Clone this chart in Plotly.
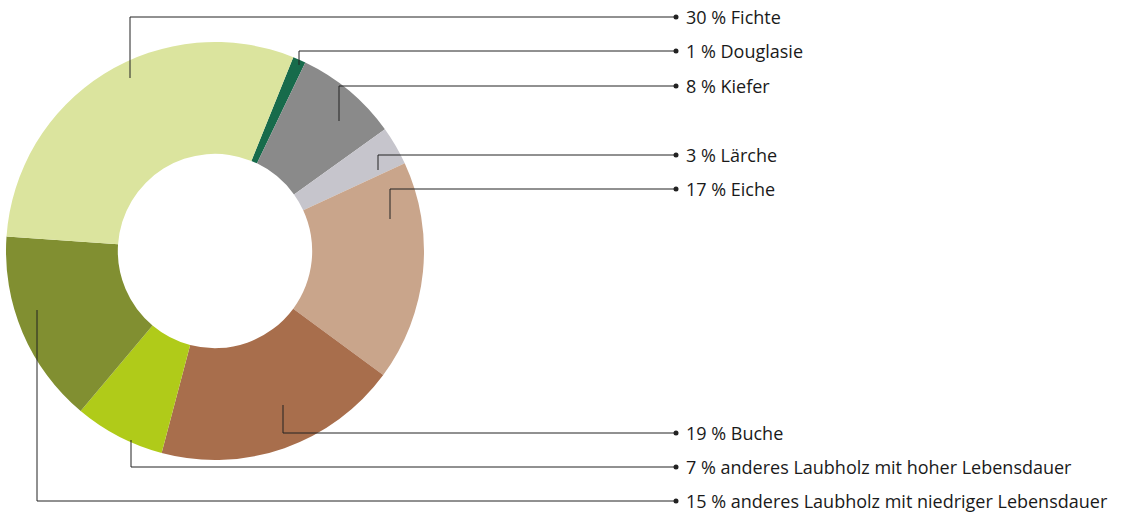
import plotly.graph_objects as go

# Data
labels = ["Douglasie", "Kiefer", "Lärche", "Eiche", "Buche",
          "anderes Laubholz mit hoher Lebensdauer",
          "anderes Laubholz mit niedriger Lebensdauer", "Fichte"]
values = [1, 8, 3, 17, 19, 7, 15, 30]
colors = ["#176b4b", "#8a8a8a", "#c6c5cc", "#c9a58b", "#a86e4c",
          "#b0cb19", "#818f31", "#dbe49e"]

# Leader-line layout (pixel space): start point on the slice, label row y
leader_x = [299, 339, 378, 390, 283, 131, 37, 130]
leader_y0 = [65, 121, 170, 219, 405, 440, 310, 78]
label_y = [51, 86, 155, 189, 433, 467, 501, 17]

W, H = 1122, 513
cx, cy, R = 215, 251, 209
dot_x, text_x = 676, 684

fig = go.Figure()
fig.add_trace(go.Pie(
    labels=labels, values=values, sort=False, direction="clockwise",
    rotation=22, hole=0.465,
    marker=dict(colors=colors, line=dict(width=0)),
    textinfo="none", hoverinfo="label+percent", showlegend=False,
    domain=dict(x=[(cx - R) / W, (cx + R) / W], y=[1 - (cy + R) / H, 1 - (cy - R) / H]),
))

line_style = dict(color="#222222", width=1)
for i, lab in enumerate(labels):
    fig.add_shape(type="line", xref="x", yref="y", layer="above",
                  x0=leader_x[i], y0=leader_y0[i], x1=leader_x[i], y1=label_y[i],
                  line=line_style)
    fig.add_shape(type="line", xref="x", yref="y", layer="above",
                  x0=leader_x[i], y0=label_y[i], x1=dot_x, y1=label_y[i],
                  line=line_style)
    fig.add_annotation(x=text_x, y=label_y[i], xref="x", yref="y",
                       text=f"{values[i]} % {lab}", showarrow=False,
                       xanchor="left", yanchor="middle",
                       font=dict(size=18, color="#1a1a1a", family="Open Sans"))

fig.add_trace(go.Scatter(
    x=[dot_x] * len(labels), y=label_y, mode="markers",
    marker=dict(color="#222222", size=5), hoverinfo="skip", showlegend=False))

fig.update_layout(
    width=W, height=H, margin=dict(l=0, r=0, t=0, b=0),
    paper_bgcolor="white", plot_bgcolor="rgba(0,0,0,0)",
    xaxis=dict(range=[0, W], visible=False, fixedrange=True),
    yaxis=dict(range=[H, 0], visible=False, fixedrange=True),
)
fig.write_html("out.html", config={"displayModeBar": False},
               post_script="document.body.style.margin='0';")
